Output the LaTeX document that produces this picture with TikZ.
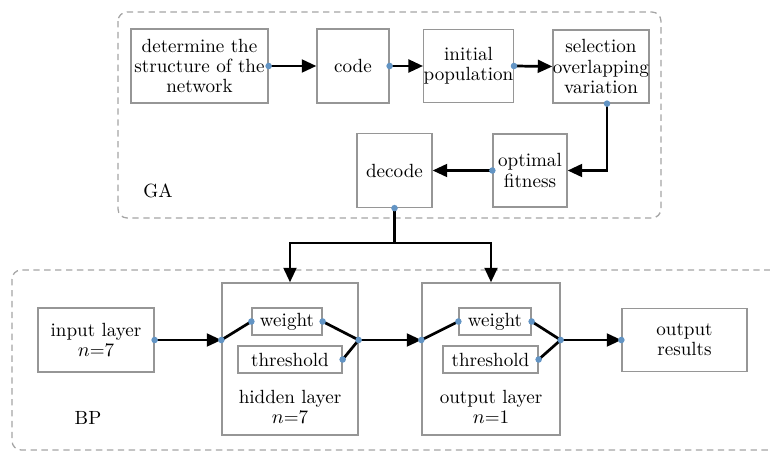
\documentclass[tikz,border=0pt]{standalone}
\usetikzlibrary{arrows.meta}

\definecolor{dotblue}{RGB}{98,148,196}
\definecolor{boxgray}{RGB}{150,150,150}
\definecolor{dashgray}{RGB}{165,165,165}
\newcommand{\pu}{0.55pt}

\begin{document}
\begin{tikzpicture}[x=0.55pt, y=-0.55pt,
    box/.style={draw=boxgray, line width=0.7pt, align=center, inner sep=0pt, font=\fontsize{10.5}{11.2}\selectfont},
    group/.style={draw=dashgray, line width=0.7pt, dash pattern=on 3.5pt off 2.5pt, rounded corners=5pt},
    flow/.style={line width=1.5pt, -{Triangle[length=8pt,width=7pt]}},
    link/.style={line width=1.5pt},
    lbl/.style={align=center, inner sep=0pt, font=\fontsize{10.5}{11.2}\selectfont}]
\useasboundingbox (0,0) rectangle (770,453);

% Dashed groups
\draw[group] (118,12) rectangle (661,218);
\draw[group] (12,270) rectangle (800,450);
\node[lbl] (galbl) at (158,191) {GA};
\node[lbl] (bplbl) at (88,418) {BP};

% GA part
\node[box, minimum width=137*\pu, minimum height=74*\pu] (det) at (199.5,66) {determine the\\structure of the\\network};
\node[box, minimum width=72*\pu, minimum height=74*\pu] (code) at (353,66) {code};
\node[box, minimum width=89*\pu, minimum height=73*\pu] (init) at (468.5,66) {initial\\population};
\node[box, minimum width=96*\pu, minimum height=73*\pu] (sel) at (601,66.5) {selection\\overlapping\\variation};
\node[box, minimum width=74*\pu, minimum height=73*\pu] (opt) at (530,170.5) {optimal\\fitness};
\node[box, minimum width=75*\pu, minimum height=74*\pu] (decode) at (394.5,170.5) {decode};

% BP part
\node[box, minimum width=116*\pu, minimum height=64*\pu] (input) at (96,340) {input layer\\$n$=7};
\node[box, minimum width=136*\pu, minimum height=152*\pu] (hidden) at (290,359) {};
\node[box, minimum width=138*\pu, minimum height=152*\pu] (outlayer) at (491,359) {};
\node[box, minimum width=125*\pu, minimum height=63*\pu] (result) at (684.5,340) {output\\results};

\node[box, minimum width=70*\pu, minimum height=27*\pu] (hw) at (287,321.5) {weight};
\node[box, minimum width=104*\pu, minimum height=27*\pu] (ht) at (290,359.5) {threshold};
\node[lbl] (hlbl) at (290,407) {hidden layer\\$n$=7};

\node[box, minimum width=72*\pu, minimum height=27*\pu] (ow) at (495,321.5) {weight};
\node[box, minimum width=95*\pu, minimum height=27*\pu] (ot) at (490.5,359.5) {threshold};
\node[lbl] (olbl) at (491,407) {output layer\\$n$=1};

% Connection points
\coordinate (selout) at ([xshift=3.3pt]sel.south);
\coordinate (split) at (decode.south |- 0,243);
\coordinate (hin) at (hidden.west |- input.east);
\coordinate (hout) at (hidden.east |- input.east);
\coordinate (oin) at (outlayer.west |- input.east);
\coordinate (oout) at (outlayer.east |- input.east);

% GA flow
\draw[flow] (det.east) -- (code.west);
\draw[flow] (code.east) -- (init.west);
\draw[flow] (init.east) -- (sel.west);
\draw[flow] (selout) |- (opt.east);
\draw[flow] (opt.west) -- (decode.east);

% GA to BP
\draw[link] (decode.south) -- (split);
\draw[flow] (split) -| (hidden.north);
\draw[flow] (split) -| (outlayer.north);

% BP flow
\draw[flow] (input.east) -- (hin);
\draw[link] (hin) -- (hw.west);
\draw[link] (hw.east) -- (hout);
\draw[link] (ht.east) -- (hout);
\draw[flow] (hout) -- (oin);
\draw[link] (oin) -- (ow.west);
\draw[link] (ow.east) -- (oout);
\draw[link] (ot.east) -- (oout);
\draw[flow] (oout) -- (result.west);

% Blue dots
\foreach \p in {det.east, code.east, init.east, selout, opt.west, decode.south,
                input.east, hin, hw.west, hw.east, ht.east, hout,
                oin, ow.west, ow.east, ot.east, oout, result.west}
    \fill[dotblue] (\p) circle (1.8pt);

\end{tikzpicture}
\end{document}
